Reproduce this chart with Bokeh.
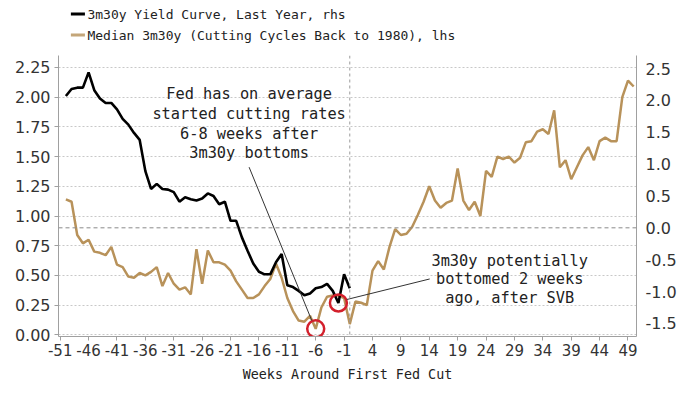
from bokeh.plotting import figure
from bokeh.models import (Range1d, LinearAxis, FixedTicker, NumeralTickFormatter, Span)
from bokeh.layouts import column
from bokeh.core.properties import value
from bokeh.embed import file_html
from bokeh.resources import INLINE

# ---------------- data ----------------
tan_weeks = list(range(-50, 51))
median_3m30y = [1.14, 1.12, 0.84, 0.77, 0.80, 0.70, 0.69, 0.67, 0.74, 0.59,
                0.57, 0.49, 0.48, 0.52, 0.50, 0.53, 0.57, 0.41, 0.52, 0.43,
                0.38, 0.40, 0.34, 0.72, 0.43, 0.71, 0.61, 0.61, 0.59, 0.54,
                0.45, 0.38, 0.31, 0.31, 0.34, 0.41, 0.47, 0.60, 0.48, 0.31,
                0.20, 0.12, 0.11, 0.16, 0.05, 0.23, 0.32, 0.33, 0.33, 0.31,
                0.09, 0.28, 0.27, 0.25, 0.54, 0.62, 0.55, 0.74, 0.89, 0.84,
                0.85, 0.91, 1.01, 1.12, 1.25, 1.13, 1.07, 1.11, 1.13, 1.40,
                1.13, 1.05, 1.12, 1.00, 1.38, 1.33, 1.50, 1.48, 1.50, 1.45,
                1.49, 1.62, 1.63, 1.71, 1.73, 1.69, 1.89, 1.41, 1.47, 1.31,
                1.41, 1.51, 1.58, 1.47, 1.63, 1.66, 1.63, 1.63, 2.00, 2.14, 2.09]

black_weeks = list(range(-50, 1))
yield_curve_last_year = [2.07, 2.18, 2.20, 2.20, 2.44, 2.16, 2.03, 1.96, 1.96, 1.86,
                         1.71, 1.62, 1.49, 1.38, 0.89, 0.61, 0.69, 0.61, 0.60, 0.56,
                         0.41, 0.48, 0.45, 0.43, 0.46, 0.54, 0.50, 0.37, 0.41, 0.11,
                         0.11, -0.15, -0.36, -0.56, -0.69, -0.73, -0.73, -0.54, -0.41, -0.90,
                         -0.93, -0.99, -1.06, -1.03, -0.95, -0.93, -0.88, -0.99, -1.18, -0.73,
                         -0.95]

x_ticks = list(range(-51, 50, 5))
left_ticks = [0.0, 0.25, 0.5, 0.75, 1.0, 1.25, 1.5, 1.75, 2.0, 2.25]
right_ticks = [-1.5, -1.0, -0.5, 0.0, 0.5, 1.0, 1.5, 2.0, 2.5]

legend_labels = ["3m30y Yield Curve, Last Year, rhs",
                 "Median 3m30y (Cutting Cycles Back to 1980), lhs"]
note1 = ["Fed has on average", "started cutting rates", "6-8 weeks after", "3m30y bottoms"]
note2 = ["3m30y potentially", "bottomed 2 weeks", "ago, after SVB"]

TAN = "#b8925a"
RED = "#d3202c"
MONO = "DejaVu Sans Mono"
SANS = "DejaVu Sans"

W = 700
LEG_H = 55
MAIN_H = 339

# ---------------- legend strip ----------------
leg = figure(width=W, height=LEG_H, x_range=Range1d(0, W), y_range=Range1d(LEG_H, 0),
             x_axis_location=None, y_axis_location=None, toolbar_location=None,
             output_backend="svg", min_border=0, min_border_left=0, min_border_right=0,
             min_border_top=0, min_border_bottom=0)
leg.outline_line_color = None
leg.xgrid.visible = False
leg.ygrid.visible = False
leg.segment(x0=[15, 15], y0=[13.5, 34.5], x1=[32, 32], y1=[13.5, 34.5],
            line_color=["black", "#c4a679"], line_width=3)
leg.text(x=[35, 35], y=[13.5, 34.5], text=legend_labels, text_font=value(MONO),
         text_font_size="13px", text_color="#222222", text_baseline="middle",
         text_align="left")

# ---------------- main chart ----------------
p = figure(width=W, height=MAIN_H, x_range=Range1d(-51.3, 50.5),
           y_range=Range1d(-0.0143, 2.351), toolbar_location=None,
           output_backend="svg", min_border_left=58, min_border_right=64,
           min_border_top=0, min_border_bottom=58)
p.extra_y_ranges = {"right": Range1d(-1.706, 2.705)}
p.outline_line_color = None
p.background_fill_color = "white"

# axes
p.xaxis.ticker = FixedTicker(ticks=x_ticks)
p.xaxis.formatter = NumeralTickFormatter(format="0")
p.xaxis.axis_label = "Weeks Around First Fed Cut"
p.xaxis.axis_label_text_font = MONO
p.xaxis.axis_label_text_font_size = "13.4px"
p.xaxis.axis_label_text_font_style = "normal"
p.xaxis.axis_label_text_color = "#222222"
p.xaxis.axis_label_standoff = 8
p.xaxis.major_label_text_font = SANS
p.xaxis.major_label_text_font_size = "15px"
p.xaxis.major_label_text_color = "#333333"
p.xaxis.major_label_standoff = 3
p.xaxis.major_tick_out = 4
p.xaxis.major_tick_in = 0
p.xaxis.minor_tick_out = 0
p.xaxis.minor_tick_in = 0
p.xaxis.axis_line_color = "#a0a0a0"
p.xaxis.major_tick_line_color = "#a0a0a0"

p.yaxis.ticker = FixedTicker(ticks=left_ticks)
p.yaxis.formatter = NumeralTickFormatter(format="0.00")
p.yaxis.major_label_text_font = SANS
p.yaxis.major_label_text_font_size = "16px"
p.yaxis.major_label_text_color = "#333333"
p.yaxis.major_label_standoff = 4
p.yaxis.major_tick_out = 4
p.yaxis.major_tick_in = 0
p.yaxis.minor_tick_out = 0
p.yaxis.minor_tick_in = 0
p.yaxis.axis_line_color = "#a0a0a0"
p.yaxis.major_tick_line_color = "#a0a0a0"

ra = LinearAxis(y_range_name="right", ticker=FixedTicker(ticks=right_ticks),
                formatter=NumeralTickFormatter(format="0.0"))
ra.major_label_text_font = SANS
ra.major_label_text_font_size = "16px"
ra.major_label_text_color = "#333333"
ra.major_label_standoff = 9
ra.major_tick_out = 0
ra.major_tick_in = 0
ra.minor_tick_out = 0
ra.minor_tick_in = 0
ra.axis_line_color = "#a0a0a0"
p.add_layout(ra, "right")

# grid
p.xgrid.visible = False
p.ygrid.grid_line_color = "#c8c8c8"
p.ygrid.grid_line_dash = "2 2"
p.ygrid.grid_line_width = 1

p.add_layout(Span(location=0, dimension="width", y_range_name="right",
                  line_color="#8a8a8a", line_dash="4 3", line_width=1))
p.add_layout(Span(location=0, dimension="height", line_color="#9a9a9a",
                  line_dash="3 3", line_width=1))

# series
p.line(tan_weeks, median_3m30y, line_color=TAN, line_width=2.5)
p.line(black_weeks, yield_curve_last_year, line_color="black", line_width=2.6,
       y_range_name="right")

# highlight circles at the bottoms
i_tan = tan_weeks.index(-6)
i_blk = black_weeks.index(-2)
p.scatter([tan_weeks[i_tan]], [median_3m30y[i_tan]], marker="circle", size=17,
          fill_alpha=0, line_color=RED, line_width=2.5)
p.scatter([black_weeks[i_blk]], [yield_curve_last_year[i_blk]], marker="circle", size=17,
          fill_alpha=0, line_color=RED, line_width=2.5, y_range_name="right")

# annotation leaders
p.segment(x0=[-17.73, -0.53], y0=[1.411, 0.297], x1=[-6.69, 14.08], y1=[0.120, 0.470],
          line_color="#333333", line_width=1)

# annotation texts
p.text(x=[-17.73] * 4, y=[2.029, 1.860, 1.692, 1.534], text=note1,
       text_font=value(MONO), text_font_size="15.3px", text_color="#222222",
       text_align="center", text_baseline="middle")
p.text(x=[28.17] * 3, y=[0.625, 0.466, 0.306], text=note2,
       text_font=value(MONO), text_font_size="15.3px", text_color="#222222",
       text_align="center", text_baseline="middle")

layout = column(leg, p, spacing=0)
open("out.html", "w").write(file_html(layout, INLINE))
